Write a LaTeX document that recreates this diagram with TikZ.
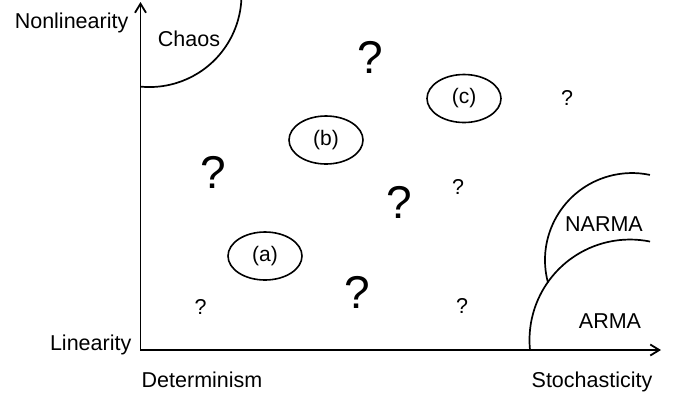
\documentclass[tikz,border=0pt]{standalone}
\usepackage{fontspec}
\setmainfont{Liberation Sans}
\usetikzlibrary{arrows.meta,shapes.geometric}
\begin{document}
\begin{tikzpicture}[x=1bp,y=-1bp,
  lbl/.style={inner sep=0pt,font=\fontsize{21.5bp}{26bp}\selectfont,text height=15.4bp,text depth=0pt},
  bigq/.style={inner sep=0pt,font=\fontsize{46bp}{52bp}\selectfont,text height=33bp,text depth=0pt},
  region/.style={ellipse,draw,line width=1.6bp,minimum width=74bp,minimum height=48bp,inner sep=0pt,font=\fontsize{21bp}{25bp}\selectfont},
  axis/.style={line width=1.8bp,{Straight Barb[length=9bp,width=11bp]}-{Straight Barb[length=9bp,width=11bp]}},
  bound/.style={line width=1.7bp}]
\useasboundingbox (0,0) rectangle (680,394);
% axes
\coordinate (ytop) at (140.5,2);
\coordinate (origin) at (140.5,350);
\coordinate (xend) at (661,350);
\draw[axis] (ytop) -- (origin) -- (xend);
% axis labels
\node[lbl,anchor=east] (nonlin) at (128.5,21) {Nonlinearity};
\node[lbl,anchor=east] (lin) at (131.5,343) {Linearity};
\node[lbl,anchor=west] (det) at (141.5,379.5) {Determinism};
\node[lbl] (stoch) at (592,380) {Stochasticity};
% regions
\draw[bound] (140.5,86.6) arc[start angle=95.6,end angle=3.1,radius=92];
\node[lbl] (chaos) at (189,39) {Chaos};
\draw[bound] (530,350) arc[start angle=174.3,end angle=281.5,radius=100.5];
\draw[bound] (548,282.7) arc[start angle=164.9,end angle=281.9,radius=87];
\node[lbl] (narma) at (604,224) {NARMA};
\node[lbl] (arma) at (610,321) {ARMA};
% ellipses
\node[region] (a) at (265,256) {(a)};
\node[region] (b) at (326,140) {(b)};
\node[region] (c) at (464,98.5) {(c)};
% question marks
\node[bigq] (q1) at (370,57) {?};
\node[bigq] (q2) at (213,171.5) {?};
\node[bigq] (q3) at (399,202) {?};
\node[bigq] (q4) at (357,291.5) {?};
\node[lbl] (q5) at (200.5,307) {?};
\node[lbl] (q6) at (462,306) {?};
\node[lbl] (q7) at (458,187) {?};
\node[lbl] (q8) at (567,98) {?};
\end{tikzpicture}
\end{document}
